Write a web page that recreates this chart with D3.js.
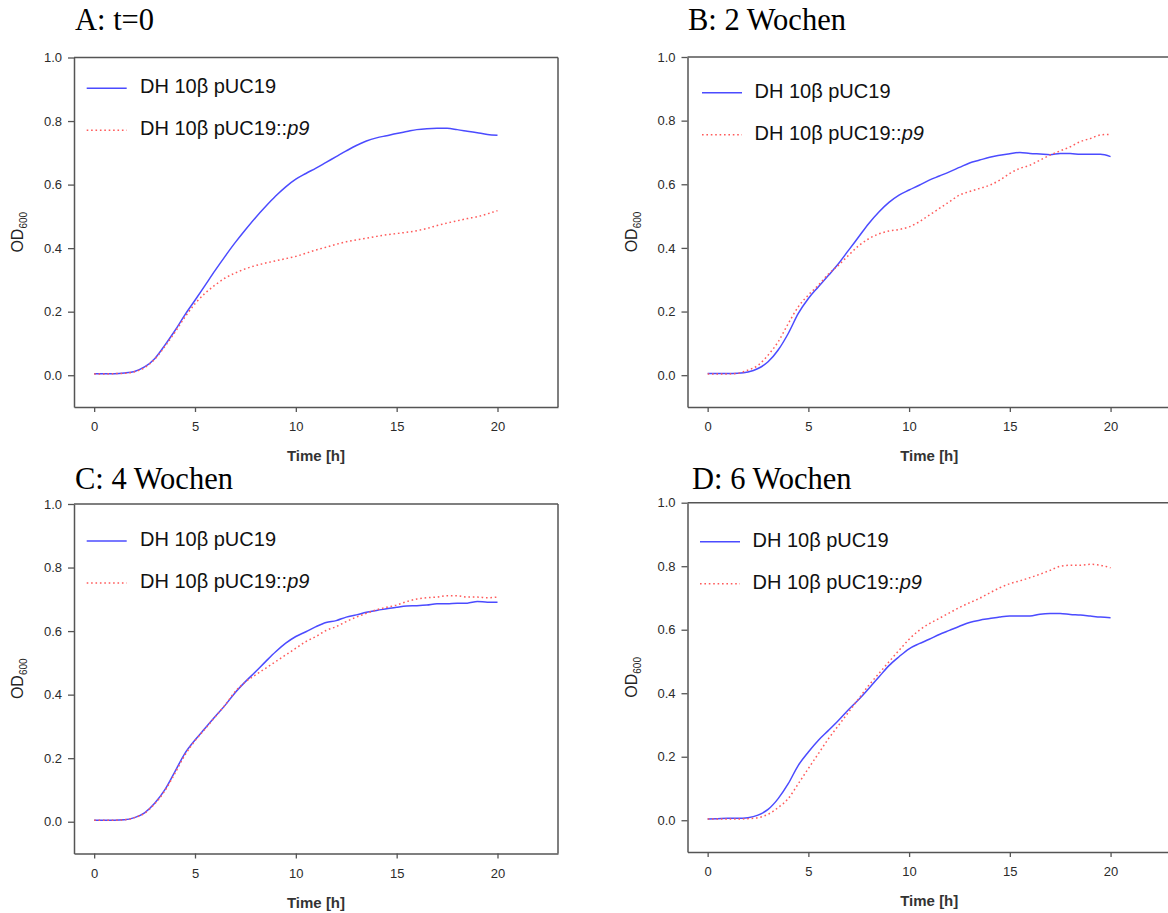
<!DOCTYPE html>
<html><head><meta charset="utf-8">
<script src="https://cdn.jsdelivr.net/npm/d3@7"></script>
<style>body{margin:0;background:#fff;overflow:hidden}</style></head>
<body>
<svg id="chart" width="1168" height="913"></svg>
<script>
// ---- data ----
const time = [0,0.5,1,1.5,2,2.5,3,3.5,4,4.5,5,5.5,6,6.5,7,7.5,8,8.5,9,9.5,10,10.5,11,11.5,12,12.5,13,13.5,14,14.5,15,15.5,16,16.5,17,17.5,18,18.5,19,19.5,20];
const panelTitles = ["A: t=0", "B: 2 Wochen", "C: 4 Wochen", "D: 6 Wochen"];
const seriesLabel = "DH 10β pUC19";
const seriesLabel2 = "DH 10β pUC19::";
const seriesLabel2Italic = "p9";
const xTicks = [0, 5, 10, 15, 20];
const yTicks = [0.0, 0.2, 0.4, 0.6, 0.8, 1.0];
const xLabel = "Time [h]";

const ctrlA = [.005,.005,.005,.007,.012,.026,.052,.094,.140,.190,.236,.283,.330,.375,.418,.458,.496,.531,.564,.593,.617,.635,.652,.670,.688,.706,.723,.737,.747,.754,.761,.767,.773,.776,.777,.777,.773,.768,.763,.758,.755];
const p9A   = [.004,.004,.005,.006,.011,.024,.050,.090,.135,.183,.225,.258,.284,.306,.322,.335,.345,.353,.360,.367,.374,.384,.394,.403,.412,.420,.426,.431,.437,.442,.446,.450,.455,.462,.471,.479,.486,.493,.499,.508,.518];
const ctrlB = [.005,.005,.005,.006,.010,.021,.042,.079,.131,.194,.241,.278,.314,.351,.393,.435,.477,.513,.543,.566,.582,.597,.613,.626,.639,.653,.667,.676,.685,.691,.696,.700,.697,.695,.693,.697,.697,.694,.694,.694,.687];
const p9B   = [.004,.004,.004,.006,.016,.031,.063,.105,.162,.215,.252,.283,.318,.346,.377,.407,.429,.444,.453,.458,.466,.482,.503,.524,.545,.566,.577,.587,.597,.613,.634,.650,.660,.676,.692,.705,.718,.734,.744,.755,.757];
const ctrlC = [.005,.005,.005,.006,.013,.028,.058,.100,.157,.215,.257,.294,.331,.367,.407,.441,.472,.504,.535,.562,.583,.598,.614,.627,.633,.644,.651,.659,.665,.670,.675,.679,.680,.682,.686,.686,.688,.688,.693,.691,.691];
const p9C   = [.005,.005,.005,.006,.013,.027,.056,.097,.152,.210,.255,.292,.330,.368,.410,.440,.462,.483,.504,.525,.546,.567,.583,.602,.614,.630,.644,.656,.667,.675,.682,.693,.701,.705,.707,.711,.711,.707,.707,.705,.707];
const ctrlD = [.004,.005,.006,.006,.008,.016,.034,.068,.115,.173,.215,.252,.283,.315,.349,.380,.415,.451,.487,.515,.540,.556,.570,.585,.598,.611,.623,.630,.635,.640,.643,.643,.643,.649,.651,.651,.648,.646,.643,.640,.638];
const p9D   = [.004,.004,.004,.004,.005,.008,.019,.040,.068,.115,.163,.210,.257,.299,.341,.383,.425,.462,.499,.535,.570,.598,.619,.636,.653,.670,.685,.699,.716,.732,.745,.754,.764,.775,.787,.800,.803,.803,.806,.803,.795];

const ctrlSeries = [ctrlA, ctrlB, ctrlC, ctrlD];
const p9Series = [p9A, p9B, p9C, p9D];

// ---- layout ----
const layout = [
  {l:74,   r:558,  t:57.5, b:407,   tx:75,  ty:29.5,  lx:12.7, ly:30.8, tl:66},
  {l:687.5,r:1171, t:57,   b:407,   tx:688, ty:29.5,  lx:14.5, ly:35.7, tl:67},
  {l:74,   r:558,  t:504,  b:853.5, tx:75,  ty:489.3, lx:12.7, ly:37,   tl:66},
  {l:687.5,r:1171, t:502.7,b:852,   tx:692, ty:488.5, lx:12.5, ly:39,   tl:65}
];
const BLUE = "#4b4bff", RED = "#ff5a5a", AX = "#555", TXT = "#2b2b2b";
const sans = "'Liberation Sans', Arial, sans-serif";

const svg = d3.select("#chart");

layout.forEach((L, i) => {
  const x = d3.scaleLinear().domain([-1, 23]).range([L.l, L.r]);
  const y = d3.scaleLinear().domain([-0.1, 1.0]).range([L.b, L.t]);
  const g = svg.append("g");

  // title
  g.append("text").attr("x", L.tx).attr("y", L.ty)
    .attr("font-family", "'Liberation Serif','Times New Roman',serif")
    .attr("font-size", 30.5).attr("fill", "#000").text(panelTitles[i]);

  // frame top/right
  g.append("line").attr("x1", L.l).attr("x2", L.r).attr("y1", L.t).attr("y2", L.t)
    .attr("stroke", AX).attr("stroke-width", 1.5);
  g.append("line").attr("x1", L.r).attr("x2", L.r).attr("y1", L.t).attr("y2", L.b)
    .attr("stroke", AX).attr("stroke-width", 1.5);

  // axes
  const ya = g.append("g").attr("transform", `translate(${L.l},0)`)
    .call(d3.axisLeft(y).tickValues(yTicks).tickFormat(d3.format(".1f")).tickSize(6).tickSizeOuter(0).tickPadding(6));
  const xa = g.append("g").attr("transform", `translate(0,${L.b})`)
    .call(d3.axisBottom(x).tickValues(xTicks).tickFormat(d3.format("d")).tickSize(5).tickSizeOuter(0).tickPadding(10));
  [ya, xa].forEach(a => {
    a.select(".domain").attr("stroke", AX).attr("stroke-width", 1.5);
    a.selectAll(".tick line").attr("stroke", AX).attr("stroke-width", 1.3);
    a.selectAll(".tick text").attr("fill", TXT).attr("font-family", sans).attr("font-size", 13);
  });

  // axis labels
  g.append("text").attr("x", (L.l + L.r) / 2).attr("y", L.b + 54)
    .attr("text-anchor", "middle").attr("font-family", sans).attr("font-size", 15)
    .attr("font-weight", "bold").attr("fill", "#333").text(xLabel);
  const yl = g.append("text")
    .attr("transform", `translate(${L.l - 51},${(L.t + L.b) / 2}) rotate(-90)`)
    .attr("text-anchor", "middle").attr("font-family", sans).attr("fill", "#222");
  yl.append("tspan").attr("font-size", 16).text("OD");
  yl.append("tspan").attr("font-size", 10).attr("dy", 4).text("600");

  // lines
  const line = d3.line().x((d, k) => x(time[k])).y(d => y(d)).curve(d3.curveMonotoneX);
  g.append("path").datum(ctrlSeries[i]).attr("d", line)
    .attr("fill", "none").attr("stroke", BLUE).attr("stroke-width", 1.5);
  g.append("path").datum(p9Series[i]).attr("d", line)
    .attr("fill", "none").attr("stroke", RED).attr("stroke-width", 1.5).attr("stroke-dasharray", "1.6,2.8");

  // legend
  const lx0 = L.l + L.lx, ly0 = L.t + L.ly;
  g.append("line").attr("x1", lx0).attr("x2", lx0 + 40).attr("y1", ly0).attr("y2", ly0)
    .attr("stroke", BLUE).attr("stroke-width", 1.5);
  g.append("text").attr("x", L.l + L.tl).attr("y", ly0 + 5).attr("font-family", sans)
    .attr("font-size", 20).attr("fill", "#111").text(seriesLabel);
  g.append("line").attr("x1", lx0).attr("x2", lx0 + 40).attr("y1", ly0 + 42).attr("y2", ly0 + 42)
    .attr("stroke", RED).attr("stroke-width", 1.5).attr("stroke-dasharray", "1.6,2.8");
  const t2 = g.append("text").attr("x", L.l + L.tl).attr("y", ly0 + 47).attr("font-family", sans)
    .attr("font-size", 20).attr("fill", "#111");
  t2.append("tspan").text(seriesLabel2);
  t2.append("tspan").attr("font-style", "italic").text(seriesLabel2Italic);
});
</script>
</body></html>
